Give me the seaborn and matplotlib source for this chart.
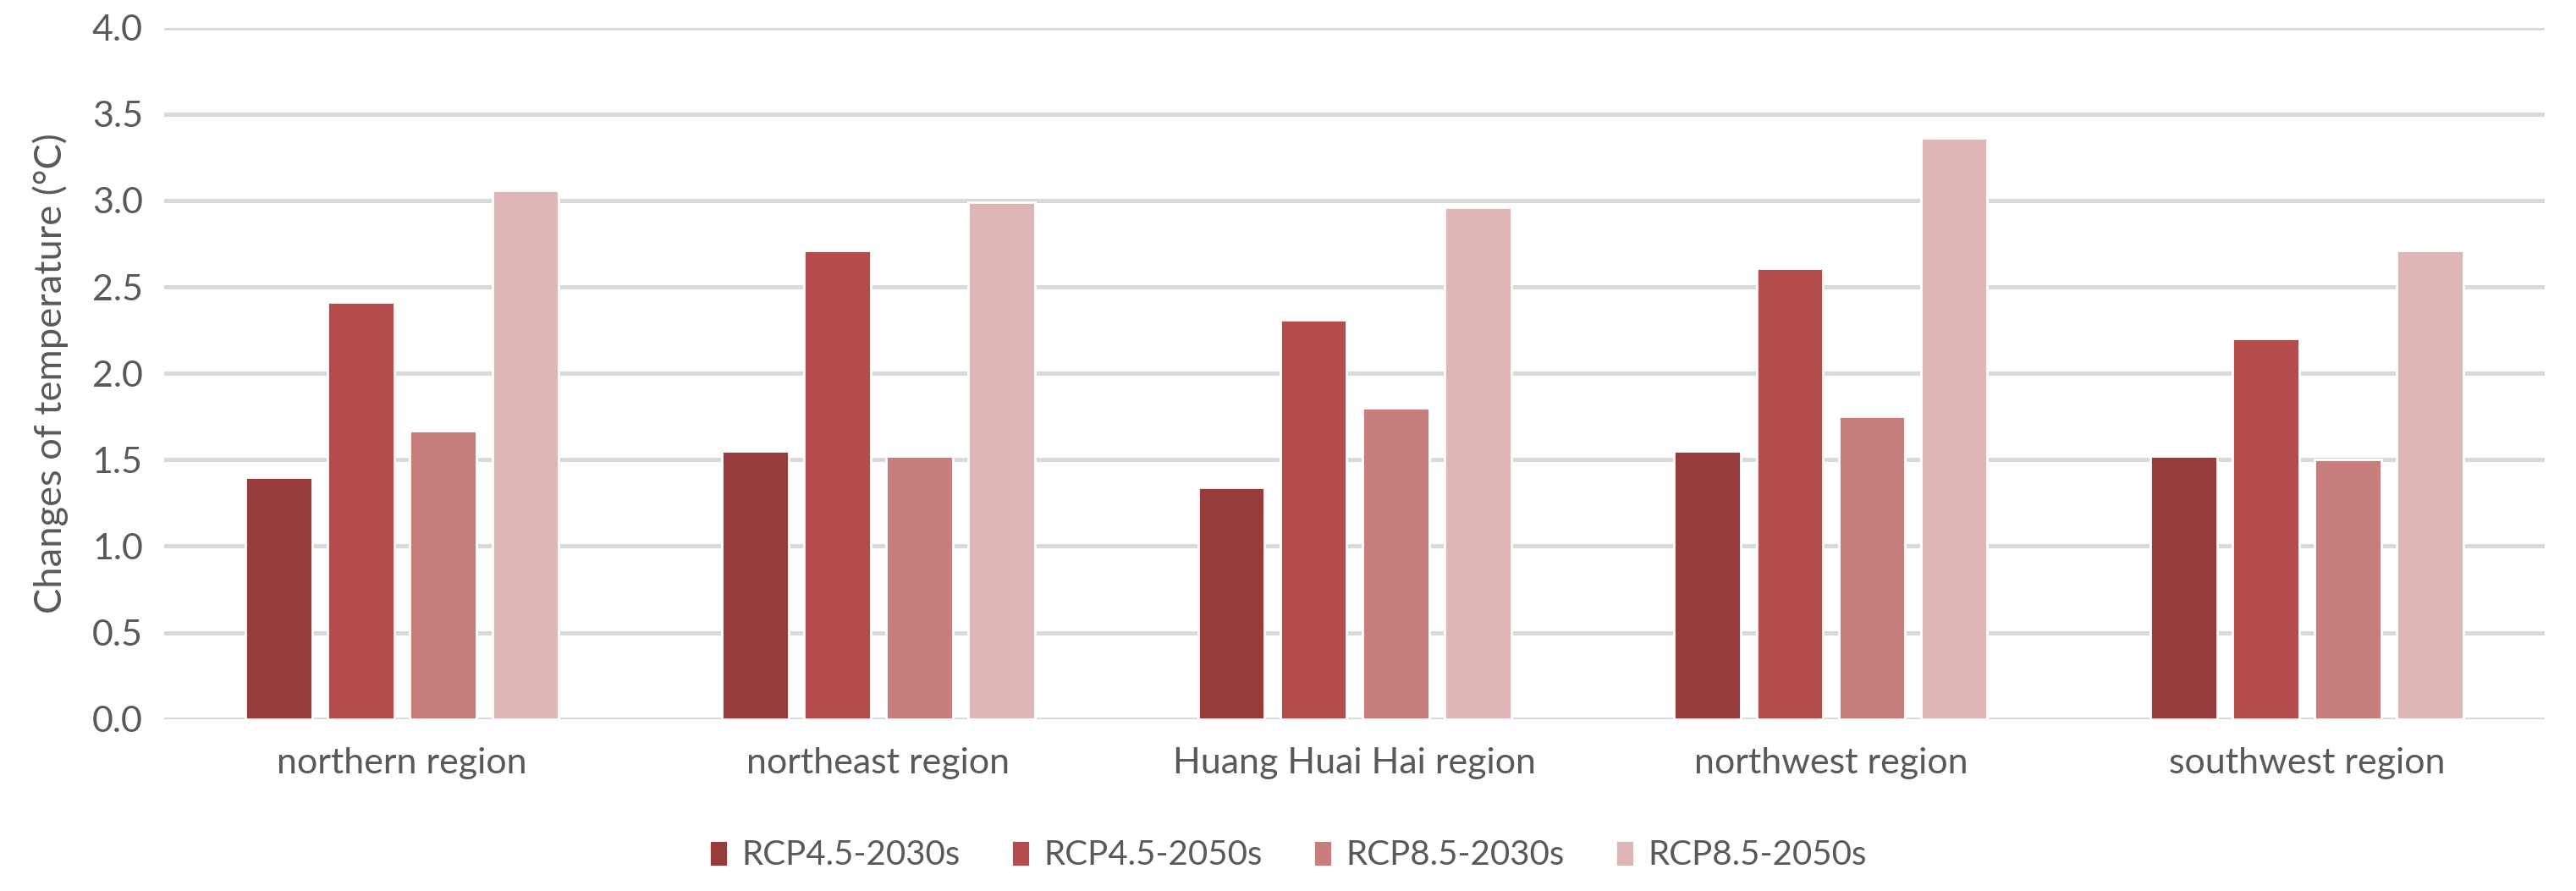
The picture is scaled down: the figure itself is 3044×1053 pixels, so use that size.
import pandas as pd
import matplotlib
matplotlib.use('Agg')
import matplotlib.pyplot as plt
import seaborn as sns

# Values
regions = ['northern region', 'northeast region', 'Huang Huai Hai region',
           'northwest region', 'southwest region']
scenarios = ['RCP4.5-2030s', 'RCP4.5-2050s', 'RCP8.5-2030s', 'RCP8.5-2050s']
rcp45_2030s = [1.40, 1.55, 1.34, 1.55, 1.52]
rcp45_2050s = [2.41, 2.71, 2.31, 2.61, 2.20]
rcp85_2030s = [1.67, 1.52, 1.80, 1.75, 1.50]
rcp85_2050s = [3.06, 2.99, 2.96, 3.36, 2.71]
colors = ['#963C3C', '#B34C4A', '#C97E7E', '#DEB6B6']
yticks = [0.0, 0.5, 1.0, 1.5, 2.0, 2.5, 3.0, 3.5, 4.0]

series = [rcp45_2030s, rcp45_2050s, rcp85_2030s, rcp85_2050s]
rows = []
for name, vals in zip(scenarios, series):
    for reg, v in zip(regions, vals):
        rows.append({'region': reg, 'scenario': name, 'value': v})
df = pd.DataFrame(rows)

sns.set_theme(style='white')
plt.rcParams['font.family'] = ['Lato', 'DejaVu Sans']
text_color = '#595959'

fig = plt.figure(figsize=(15.22, 5.265), dpi=200)
ax = fig.add_axes([0.0637, 0.193, 0.9243, 0.776])

sns.barplot(data=df, x='region', y='value', hue='scenario',
            palette=colors, width=0.69, gap=0.19, ax=ax,
            saturation=1, errorbar=None, zorder=3)

ax.set_ylim(0, 4.0)
ax.set_yticks(yticks)
ax.set_yticklabels([f'{t:.1f}' for t in yticks])
ax.set_xlim(-0.5, len(regions) - 0.5)
ax.yaxis.grid(True, color='#D9D9D9', linewidth=1.8, zorder=0)
ax.xaxis.grid(False)
for s in ax.spines.values():
    s.set_visible(False)
ax.tick_params(axis='both', length=0, colors=text_color, labelsize=15.5)
ax.tick_params(axis='y', pad=9)
ax.tick_params(axis='x', pad=12)

ax.set_xlabel('')
ax.set_ylabel('Changes of temperature (°C)', color=text_color, fontsize=16.3, labelpad=10)

handles, labels = ax.get_legend_handles_labels()
ax.get_legend().remove()
fig.legend(handles, labels, loc='center', bbox_to_anchor=(0.5, 0.04),
           ncol=4, frameon=False, fontsize=14.5, labelcolor=text_color,
           handlelength=0.55, handleheight=0.8, handletextpad=0.4,
           columnspacing=1.5)

fig.savefig('out.png', dpi=200)
